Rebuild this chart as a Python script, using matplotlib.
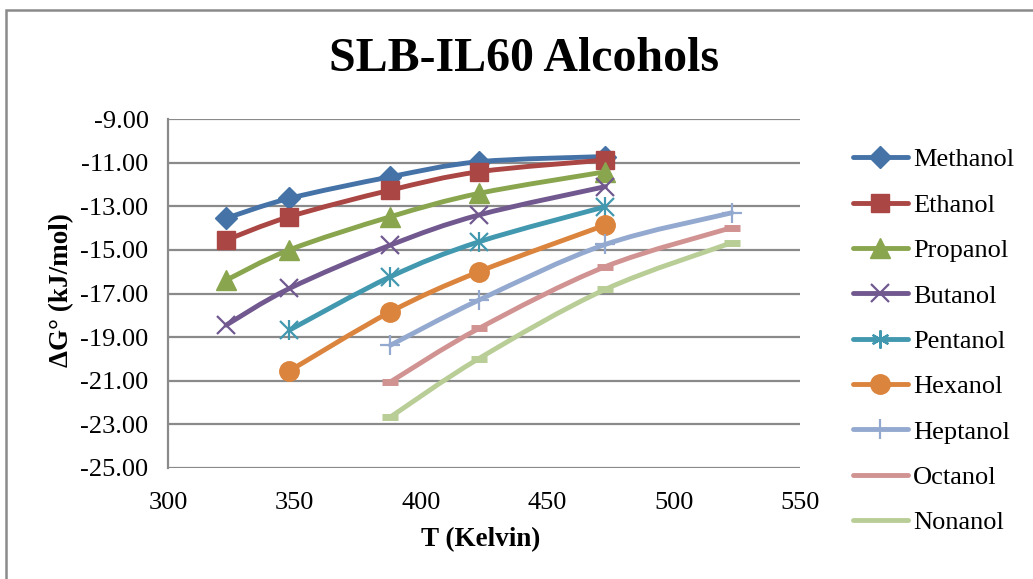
import matplotlib
matplotlib.use('Agg')
import matplotlib.pyplot as plt
from matplotlib.path import Path
from matplotlib.patches import PathPatch, Rectangle
from matplotlib.lines import Line2D

plt.rcParams['font.family'] = ['Liberation Serif', 'DejaVu Serif']

# temperatures (K) for each series
t_long = [323, 348, 388, 423, 473]
t_mid = [348, 388, 423, 473]
t_late = [388, 423, 473, 523]

# free energy values (kJ/mol)
methanol = [-13.55, -12.64, -11.65, -10.96, -10.72]
ethanol = [-14.55, -13.48, -12.26, -11.42, -10.88]
propanol = [-16.39, -15.00, -13.48, -12.41, -11.42]
butanol = [-18.45, -16.77, -14.78, -13.40, -12.10]
pentanol = [-18.68, -16.23, -14.63, -13.02]
hexanol = [-20.55, -17.84, -16.00, -13.86]
heptanol = [-19.37, -17.30, -14.75, -13.30]
octanol = [-21.05, -18.60, -15.77, -13.98]
nonanol = [-22.66, -19.98, -16.81, -14.67]

names = ['Methanol', 'Ethanol', 'Propanol', 'Butanol', 'Pentanol',
         'Hexanol', 'Heptanol', 'Octanol', 'Nonanol']
xs = [t_long, t_long, t_long, t_long, t_mid, t_mid, t_late, t_late, t_late]
ys = [methanol, ethanol, propanol, butanol, pentanol, hexanol,
      heptanol, octanol, nonanol]

colors = ['#4572A7', '#AA4643', '#89A54E', '#71588F', '#4198AF',
          '#DB843D', '#93A9CF', '#D19392', '#B9CD96']
# (marker, size, edge width)
markers = [('D', 11, 1), ('s', 13, 1), ('^', 14, 1), ('x', 13, 1.6),
           ('star', 13, 1.6), ('o', 14, 1), ('+', 14, 1.6),
           ('_', 12, 5), ('_', 12, 5)]

y_ticks = [-25, -23, -21, -19, -17, -15, -13, -11, -9]
x_ticks = [300, 350, 400, 450, 500, 550]


def smooth_path(x, y):
    # Excel-like smoothed line: Catmull-Rom turned into cubic Beziers
    pts = list(zip(x, y))
    n = len(pts)
    verts = [pts[0]]
    codes = [Path.MOVETO]
    for i in range(n - 1):
        p0 = pts[i - 1] if i > 0 else pts[i]
        p1 = pts[i]
        p2 = pts[i + 1]
        p3 = pts[i + 2] if i + 2 < n else pts[i + 1]
        c1 = (p1[0] + (p2[0] - p0[0]) / 6, p1[1] + (p2[1] - p0[1]) / 6)
        c2 = (p2[0] - (p3[0] - p1[0]) / 6, p2[1] - (p3[1] - p1[1]) / 6)
        verts += [c1, c2, p2]
        codes += [Path.CURVE4] * 3
    return Path(verts, codes)


fig = plt.figure(figsize=(10.33, 5.79), dpi=100)
ax = fig.add_axes([168 / 1033, 1 - 468 / 579, 632 / 1033, 349 / 579])

# chart border (top and left only visible)
fig.add_artist(Rectangle((6 / 1033, -0.1), 1.2, 1 - 10 / 579 + 0.1,
                         transform=fig.transFigure, fill=False,
                         edgecolor='#8a8a8a', lw=1.8))

handles = []
for i, (name, x, y, c, m) in enumerate(zip(names, xs, ys, colors, markers)):
    z = 3 + i * 0.1
    ax.add_patch(PathPatch(smooth_path(x, y), facecolor='none', edgecolor=c,
                           lw=3.5, capstyle='round', joinstyle='round', zorder=z))
    mk, ms, mew = m
    if mk == 'star':
        ax.plot(x, y, linestyle='none', marker='x', ms=ms, mew=mew, color=c, zorder=z + 0.05)
        ax.plot(x, y, linestyle='none', marker='|', ms=ms * 1.15, mew=mew, color=c, zorder=z + 0.05)
        h = Line2D([], [], color=c, lw=3.5, marker=(6, 2, 0), ms=ms, mew=mew,
                   solid_capstyle='round')
    else:
        ax.plot(x, y, linestyle='none', marker=mk, ms=ms, mew=mew, color=c, zorder=z + 0.05)
        h = Line2D([], [], color=c, lw=3.5, marker=mk, ms=ms if mk != '_' else 0,
                   mew=mew, solid_capstyle='round')
    handles.append(h)

ax.set_xlim(300, 550)
ax.set_ylim(-25, -9)
ax.set_xticks(x_ticks)
ax.set_yticks(y_ticks)
ax.set_yticklabels([f'{v:.2f}' for v in y_ticks])
ax.tick_params(length=0, labelsize=19)
ax.tick_params(axis='y', pad=14)
ax.tick_params(axis='x', pad=17)
ax.grid(axis='y', color='#8a8a8a', lw=1.6)
ax.set_axisbelow(True)
for s in ['top', 'right', 'bottom']:
    ax.spines[s].set_visible(False)
ax.spines['left'].set_color('#8a8a8a')
ax.spines['left'].set_linewidth(1.6)

fig.text(524 / 1033, 1 - 59 / 579, 'SLB-IL60 Alcohols', ha='center', va='center',
         fontsize=34.5, fontweight='bold')
fig.text(62 / 1033, 1 - 290 / 579, 'ΔG° (kJ/mol)', ha='center', va='center',
         rotation=90, fontsize=19.5, fontweight='bold')
fig.text(481 / 1033, 1 - 540 / 579, 'T (Kelvin)', ha='center', va='center',
         fontsize=19.5, fontweight='bold')

fig.legend(handles, names, loc='upper left', bbox_to_anchor=(853 / 1033, 1 - 148 / 579),
           frameon=False, fontsize=19, handlelength=2.08, handletextpad=0.19,
           labelspacing=0.83, borderpad=0, borderaxespad=0)

fig.savefig('out.png', dpi=100)
